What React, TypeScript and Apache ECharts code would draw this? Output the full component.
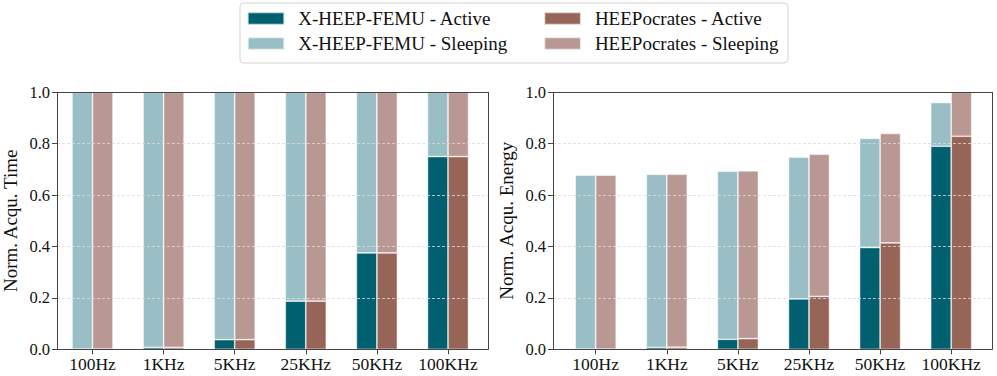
import React, { useEffect, useRef } from "react";
import * as echarts from "echarts";

const categories = ["100Hz", "1KHz", "5KHz", "25KHz", "50KHz", "100KHz"];
const yTicks = [0, 0.2, 0.4, 0.6, 0.8, 1.0];

// Normalized acquisition time
const timeFemuActive = [0.00075, 0.0075, 0.0375, 0.1875, 0.375, 0.75];
const timeFemuSleeping = [0.99925, 0.9925, 0.9625, 0.8125, 0.625, 0.25];
const timeHeepActive = [0.00075, 0.0075, 0.0375, 0.1875, 0.375, 0.75];
const timeHeepSleeping = [0.99925, 0.9925, 0.9625, 0.8125, 0.625, 0.25];

// Normalized acquisition energy
const energyFemuActive = [0.0007, 0.0078, 0.039, 0.196, 0.396, 0.79];
const energyFemuSleeping = [0.677, 0.673, 0.654, 0.552, 0.425, 0.17];
const energyHeepActive = [0.0008, 0.0082, 0.0415, 0.206, 0.414, 0.829];
const energyHeepSleeping = [0.677, 0.673, 0.653, 0.553, 0.426, 0.171];

const NAMES = [
  "X-HEEP-FEMU - Active",
  "X-HEEP-FEMU - Sleeping",
  "HEEPocrates - Active",
  "HEEPocrates - Sleeping",
];
const COLORS = ["#01606f", "#99bec6", "#976558", "#b99893"];

const FONT = "Liberation Serif";
const AXIS_COLOR = "#444";

export default function App() {
  const ref = useRef<HTMLDivElement>(null);

  useEffect(() => {
    document.body.style.margin = "0";
    const chart = echarts.init(ref.current!, null, { renderer: "svg" });

    const frames = [
      { left: 50, width: 438 },
      { left: 553, width: 439 },
    ];
    const barGrids = [
      { left: 56.95, width: 426.6 },
      { left: 560.15, width: 426.6 },
    ];
    const top = 92.3;
    const height = 257;

    const grid: any[] = [];
    frames.forEach((f) => grid.push({ left: f.left, width: f.width, top, height }));
    barGrids.forEach((g) => grid.push({ left: g.left, width: g.width, top, height }));

    const xAxis: any[] = [];
    const yAxis: any[] = [];
    const frameLine = { show: true, lineStyle: { color: AXIS_COLOR, width: 1 } };

    // frame grids 0,1
    [0, 1].forEach((gi) => {
      xAxis.push({
        gridIndex: gi, type: "value", min: 0, max: 1, position: "bottom", z: 5,
        axisLine: { ...frameLine, onZero: false }, axisTick: { show: false },
        axisLabel: { show: false }, splitLine: { show: false },
      });
      xAxis.push({
        gridIndex: gi, type: "value", min: 0, max: 1, position: "top", z: 5,
        axisLine: { ...frameLine, onZero: false }, axisTick: { show: false },
        axisLabel: { show: false }, splitLine: { show: false },
      });
      yAxis.push({
        gridIndex: gi, type: "value", min: yTicks[0], max: yTicks[yTicks.length - 1],
        interval: 0.2, position: "left", z: 5,
        name: gi === 0 ? "Norm. Acqu. Time" : "Norm. Acqu. Energy",
        nameLocation: "middle", nameGap: 37,
        nameTextStyle: { fontFamily: FONT, fontSize: 19, color: "#111" },
        axisLine: { ...frameLine, onZero: false },
        axisTick: { show: true, length: 5, lineStyle: { color: AXIS_COLOR } },
        axisLabel: {
          fontFamily: FONT, fontSize: 16.5, color: "#111", margin: 7,
          formatter: (v: number) => v.toFixed(1),
        },
        splitLine: { show: true, lineStyle: { color: "#dcdcdc", type: [3, 2], width: 0.8 } },
      });
      yAxis.push({
        gridIndex: gi, type: "value", min: 0, max: 1, position: "right", z: 5,
        axisLine: { ...frameLine, onZero: false }, axisTick: { show: false },
        axisLabel: { show: false }, splitLine: { show: false },
      });
    });

    // bar grids 2,3
    [2, 3].forEach((gi) => {
      xAxis.push({
        gridIndex: gi, type: "category", data: categories,
        axisLine: { show: false },
        axisTick: { show: true, interval: 0, alignWithLabel: true, length: 5, lineStyle: { color: AXIS_COLOR } },
        axisLabel: { interval: 0, fontFamily: FONT, fontSize: 17.5, color: "#111", margin: 6 },
        splitLine: { show: false },
      });
      yAxis.push({ gridIndex: gi, type: "value", min: 0, max: 1, show: false });
    });

    const mk = (name: string, data: number[], stack: string, xi: number, color: string) => ({
      type: "bar", name, data, stack, xAxisIndex: xi, yAxisIndex: xi,
      barWidth: 20.5, barGap: "0%",
      itemStyle: { color, borderColor: "rgba(255,255,255,0.7)", borderWidth: 0.7 },
      z: 2,
    });

    const series = [
      mk(NAMES[0], timeFemuActive, "tf", 4, COLORS[0]),
      mk(NAMES[1], timeFemuSleeping, "tf", 4, COLORS[1]),
      mk(NAMES[2], timeHeepActive, "th", 4, COLORS[2]),
      mk(NAMES[3], timeHeepSleeping, "th", 4, COLORS[3]),
      mk(NAMES[0], energyFemuActive, "ef", 5, COLORS[0]),
      mk(NAMES[1], energyFemuSleeping, "ef", 5, COLORS[1]),
      mk(NAMES[2], energyHeepActive, "eh", 5, COLORS[2]),
      mk(NAMES[3], energyHeepSleeping, "eh", 5, COLORS[3]),
    ];

    const legendBase = {
      orient: "vertical", top: 7.5, padding: 0, itemWidth: 36.6, itemHeight: 12.3,
      itemGap: 3, icon: "rect", selectedMode: false,
      textStyle: { fontFamily: FONT, fontSize: 19, color: "#111", lineHeight: 22, padding: [0, 0, 0, 9] },
    };

    chart.setOption({
      animation: false,
      backgroundColor: "#fff",
      textStyle: { fontFamily: FONT },
      graphic: [
        {
          type: "rect", z: 0,
          shape: { x: 240, y: 3, width: 548, height: 60, r: 4 },
          style: { fill: "#fff", stroke: "#d4d4d4", lineWidth: 1 },
        },
      ],
      legend: [
        { ...legendBase, left: 246.7, data: [NAMES[0], NAMES[1]] },
        { ...legendBase, left: 543.3, data: [NAMES[2], NAMES[3]] },
      ],
      grid,
      xAxis,
      yAxis,
      series,
    });

    return () => chart.dispose();
  }, []);

  return <div ref={ref} style={{ width: 997, height: 376 }} />;
}
